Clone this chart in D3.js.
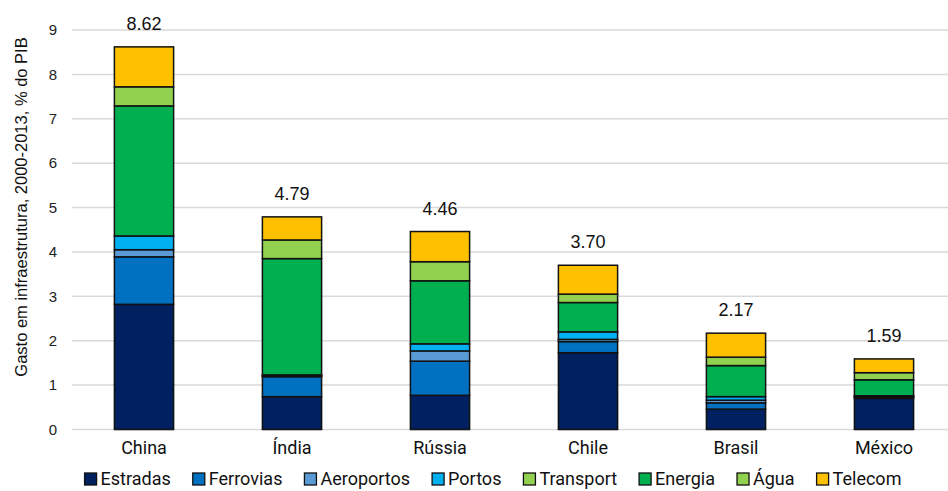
<!DOCTYPE html>
<html>
<head>
<meta charset="utf-8">
<script src="https://cdn.jsdelivr.net/npm/d3@7"></script>
<style>
  html, body { margin: 0; padding: 0; background: #fff; }
  svg { display: block; }
</style>
</head>
<body>
<svg id="chart" width="948" height="491"></svg>
<script>
// Infrastructure spending by sector, 2000-2013, % of GDP
const countries = ["China", "Índia", "Rússia", "Chile", "Brasil", "México"];
const sectors = ["Estradas", "Ferrovias", "Aeroportos", "Portos", "Transport", "Energia", "Água", "Telecom"];
const colors = ["#002060", "#0070C0", "#5B9BD5", "#00B0F0", "#92D050", "#00B050", "#92D050", "#FFC000"];

const estradas   = [2.82, 0.74, 0.77, 1.73, 0.46, 0.70];
const ferrovias  = [1.07, 0.45, 0.77, 0.25, 0.14, 0.03];
const aeroportos = [0.16, 0.02, 0.23, 0.05, 0.06, 0.01];
const portos     = [0.31, 0.02, 0.16, 0.17, 0.08, 0.02];
const transport  = [0.00, 0.00, 0.00, 0.00, 0.00, 0.00];
const energia    = [2.93, 2.62, 1.42, 0.66, 0.70, 0.36];
const agua       = [0.43, 0.42, 0.43, 0.19, 0.19, 0.16];
const telecom    = [0.90, 0.52, 0.68, 0.65, 0.54, 0.31];
const totals     = [8.62, 4.79, 4.46, 3.70, 2.17, 1.59];
const yTicks     = [0, 1, 2, 3, 4, 5, 6, 7, 8, 9];

const seriesValues = [estradas, ferrovias, aeroportos, portos, transport, energia, agua, telecom];
const rows = countries.map((c, i) => {
  const r = { country: c };
  sectors.forEach((s, j) => { r[s] = seriesValues[j][i]; });
  return r;
});

const svg = d3.select("#chart");
const margin = { left: 70, right: -10, top: 30, bottom: 61.5 };
const W = 948, H = 491;

const x = d3.scaleBand().domain(countries)
  .range([margin.left, W - margin.right]).paddingInner(0.6).paddingOuter(0.3);
const y = d3.scaleLinear().domain([0, 9]).range([H - margin.bottom, margin.top]);

// gridlines
svg.append("g").selectAll("line").data(yTicks).join("line")
  .attr("x1", 72).attr("x2", W)
  .attr("y1", d => y(d)).attr("y2", d => y(d))
  .attr("stroke", "#d9d9d9").attr("stroke-width", 1.5);

// y axis labels
const yAxis = d3.axisLeft(y).tickValues(yTicks).tickSize(0).tickPadding(0);
svg.append("g").attr("transform", "translate(57,0)").call(yAxis)
  .call(g => g.select(".domain").remove())
  .selectAll("text")
  .attr("font-family", "Liberation Sans, Arial, sans-serif")
  .attr("font-size", 15).attr("fill", "#222");

// y axis title
svg.append("text")
  .attr("transform", `translate(27,207) rotate(-90)`)
  .attr("text-anchor", "middle")
  .attr("font-family", "Liberation Sans, Arial, sans-serif")
  .attr("font-size", 16.5).attr("fill", "#111")
  .text("Gasto em infraestrutura, 2000-2013, % do PIB");

// stacked bars
const stacked = d3.stack().keys(sectors)(rows);
svg.append("g").selectAll("g").data(stacked).join("g")
  .attr("fill", (d, i) => colors[i])
  .selectAll("rect").data(d => d.filter(p => p[1] - p[0] > 0)).join("rect")
  .attr("x", d => x(d.data.country))
  .attr("width", x.bandwidth())
  .attr("y", d => y(d[1]))
  .attr("height", d => y(d[0]) - y(d[1]))
  .attr("stroke", "#111").attr("stroke-width", 1.5);

// total labels
svg.append("g").selectAll("text").data(countries).join("text")
  .attr("x", d => x(d) + x.bandwidth() / 2)
  .attr("y", (d, i) => y(totals[i]) - 17)
  .attr("text-anchor", "middle")
  .attr("font-family", "Liberation Sans, Arial, sans-serif")
  .attr("font-size", 18).attr("fill", "#111")
  .text((d, i) => totals[i].toFixed(2));

// category labels
const xAxis = d3.axisBottom(x).tickSize(0).tickPadding(0);
svg.append("g").attr("transform", `translate(0,${y(0) + 8})`).call(xAxis)
  .call(g => g.select(".domain").remove())
  .selectAll("text")
  .attr("dy", "0.9em")
  .attr("font-family", "Roboto, sans-serif")
  .attr("font-size", 18).attr("fill", "#111");

// legend
const legend = svg.append("g");
const items = legend.selectAll("g").data(sectors).join("g");
items.append("rect").attr("x", 0).attr("y", -6).attr("width", 12).attr("height", 12)
  .attr("fill", (d, i) => colors[i]).attr("stroke", "#111").attr("stroke-width", 1.3);
items.append("text").attr("x", 16).attr("y", 0).attr("dy", "0.36em")
  .attr("font-family", "Roboto, sans-serif").attr("font-size", 18).attr("fill", "#111")
  .text(d => d);
let cx = 0;
const gap = 22;
items.each(function () {
  const w = 16 + this.querySelector("text").getComputedTextLength();
  d3.select(this).attr("transform", `translate(${cx},0)`);
  cx += w + gap;
});
const total = cx - gap;
legend.attr("transform", `translate(${493 - total / 2},479)`);
</script>
</body>
</html>
